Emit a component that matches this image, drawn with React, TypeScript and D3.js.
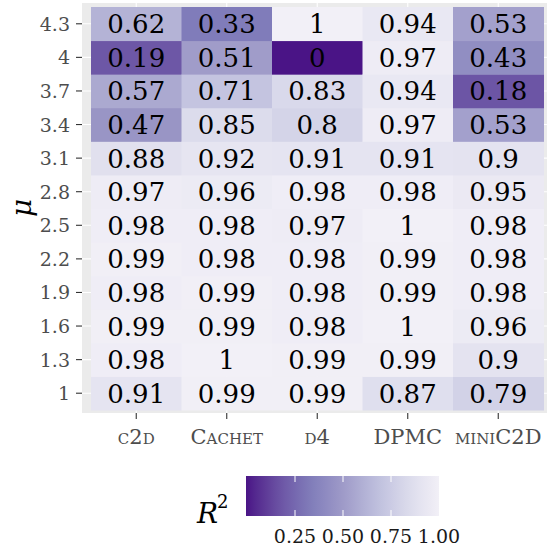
import * as d3 from "d3";

const solvers = ["c2d", "Cachet", "d4", "DPMC", "miniC2D"];
const mus = ["1", "1.3", "1.6", "1.9", "2.2", "2.5", "2.8", "3.1", "3.4", "3.7", "4", "4.3"];

// one array per solver, values bottom (mu = 1) to top (mu = 4.3)
const c2d = [0.91, 0.98, 0.99, 0.98, 0.99, 0.98, 0.97, 0.88, 0.47, 0.57, 0.19, 0.62];
const cachet = [0.99, 1, 0.99, 0.99, 0.98, 0.98, 0.96, 0.92, 0.85, 0.71, 0.51, 0.33];
const d4 = [0.99, 0.99, 0.98, 0.98, 0.98, 0.97, 0.98, 0.91, 0.8, 0.83, 0, 1];
const dpmc = [0.87, 0.99, 1, 0.99, 0.99, 1, 0.98, 0.91, 0.97, 0.94, 0.97, 0.94];
const minic2d = [0.79, 0.9, 0.96, 0.98, 0.98, 0.98, 0.95, 0.9, 0.53, 0.18, 0.43, 0.53];
const series = [c2d, cachet, d4, dpmc, minic2d];

const legendTicks = [0.25, 0.5, 0.75, 1.0];
const purples = ["#4a1486", "#6a51a3", "#807dba", "#9e9ac8", "#bcbddc", "#dadaeb", "#f2f0f7"];

const FONT = "DejaVu Serif";

export default function App() {
  const panel = { x0: 82, x1: 547, y0: 3, y1: 413 };
  const x = d3.scaleBand().domain(solvers).range([91, 543.5]).padding(0);
  const y = d3.scaleBand().domain(mus).range([410, 7]).padding(0);

  const color = d3
    .scaleLinear<string>()
    .domain(purples.map((_, i) => i / (purples.length - 1)))
    .range(purples)
    .interpolate(d3.interpolateLab);

  const cells = series.flatMap((vals, i) =>
    vals.map((v, j) => ({ solver: solvers[i], mu: mus[j], v }))
  );

  const lx = d3.scaleLinear().domain([0, 1]).range([247, 439]);
  const stops = d3.range(0, 1.0001, 0.05);

  return (
    <svg width={548} height={552} fontFamily={FONT} style={{ position: "absolute", left: 0, top: 0 }}>
      <defs>
        <linearGradient id="bar" x1="0" x2="1" y1="0" y2="0">
          {stops.map((s) => (
            <stop key={s} offset={s} stopColor={color(s)} />
          ))}
        </linearGradient>
      </defs>
      <rect x={panel.x0} y={panel.y0} width={panel.x1 - panel.x0} height={panel.y1 - panel.y0} fill="#ebebeb" />
      {solvers.map((s) => (
        <line key={s} x1={x(s)! + x.bandwidth() / 2} x2={x(s)! + x.bandwidth() / 2} y1={panel.y0} y2={panel.y1} stroke="#fff" strokeWidth={1.1} />
      ))}
      {mus.map((m) => (
        <line key={m} x1={panel.x0} x2={panel.x1} y1={y(m)! + y.bandwidth() / 2} y2={y(m)! + y.bandwidth() / 2} stroke="#fff" strokeWidth={1.1} />
      ))}
      {cells.map((c) => (
        <rect key={c.solver + c.mu} x={x(c.solver)} y={y(c.mu)} width={x.bandwidth() + 0.5} height={y.bandwidth() + 0.5} fill={color(c.v)} />
      ))}
      {cells.map((c) => (
        <text
          key={"t" + c.solver + c.mu}
          x={x(c.solver)! + x.bandwidth() / 2}
          y={y(c.mu)! + y.bandwidth() / 2 + 9.5}
          textAnchor="middle"
          fontSize={26}
          fill="#000"
        >
          {String(c.v)}
        </text>
      ))}
      {/* y axis */}
      {mus.map((m) => (
        <g key={"y" + m}>
          <line x1={76} x2={82} y1={y(m)! + y.bandwidth() / 2} y2={y(m)! + y.bandwidth() / 2} stroke="#333" strokeWidth={1.1} />
          <text x={70} y={y(m)! + y.bandwidth() / 2 + 7} textAnchor="end" fontSize={19} fill="#4d4d4d">
            {m}
          </text>
        </g>
      ))}
      {/* x axis */}
      {solvers.map((s) => (
        <g key={"x" + s}>
          <line x1={x(s)! + x.bandwidth() / 2} x2={x(s)! + x.bandwidth() / 2} y1={413} y2={419} stroke="#333" strokeWidth={1.1} />
          <text x={x(s)! + x.bandwidth() / 2} y={444} textAnchor="middle" fontSize={21} fill="#4d4d4d" style={{ fontVariant: "small-caps" }}>
            {s}
          </text>
        </g>
      ))}
      <text transform="translate(31,208) rotate(-90)" textAnchor="middle" fontSize={28} fontStyle="italic" fill="#000">
        μ
      </text>
      {/* legend */}
      <text x={197} y={523} fontSize={28} fontStyle="italic" fill="#000">
        R
      </text>
      <text x={217} y={508} fontSize={18} fill="#000">
        2
      </text>
      <rect x={lx(0) - 1} y={476} width={lx(1) - lx(0) + 1} height={40} fill="url(#bar)" />
      {legendTicks.map((t) => (
        <g key={"l" + t}>
          {t < 1 && (
            <>
              <line x1={lx(t)} x2={lx(t)} y1={476} y2={482} stroke="#fff" strokeWidth={1} />
              <line x1={lx(t)} x2={lx(t)} y1={510} y2={516} stroke="#fff" strokeWidth={1} />
            </>
          )}
          <text x={lx(t)} y={543} textAnchor="middle" fontSize={19} fill="#1a1a1a">
            {t.toFixed(2)}
          </text>
        </g>
      ))}
    </svg>
  );
}
